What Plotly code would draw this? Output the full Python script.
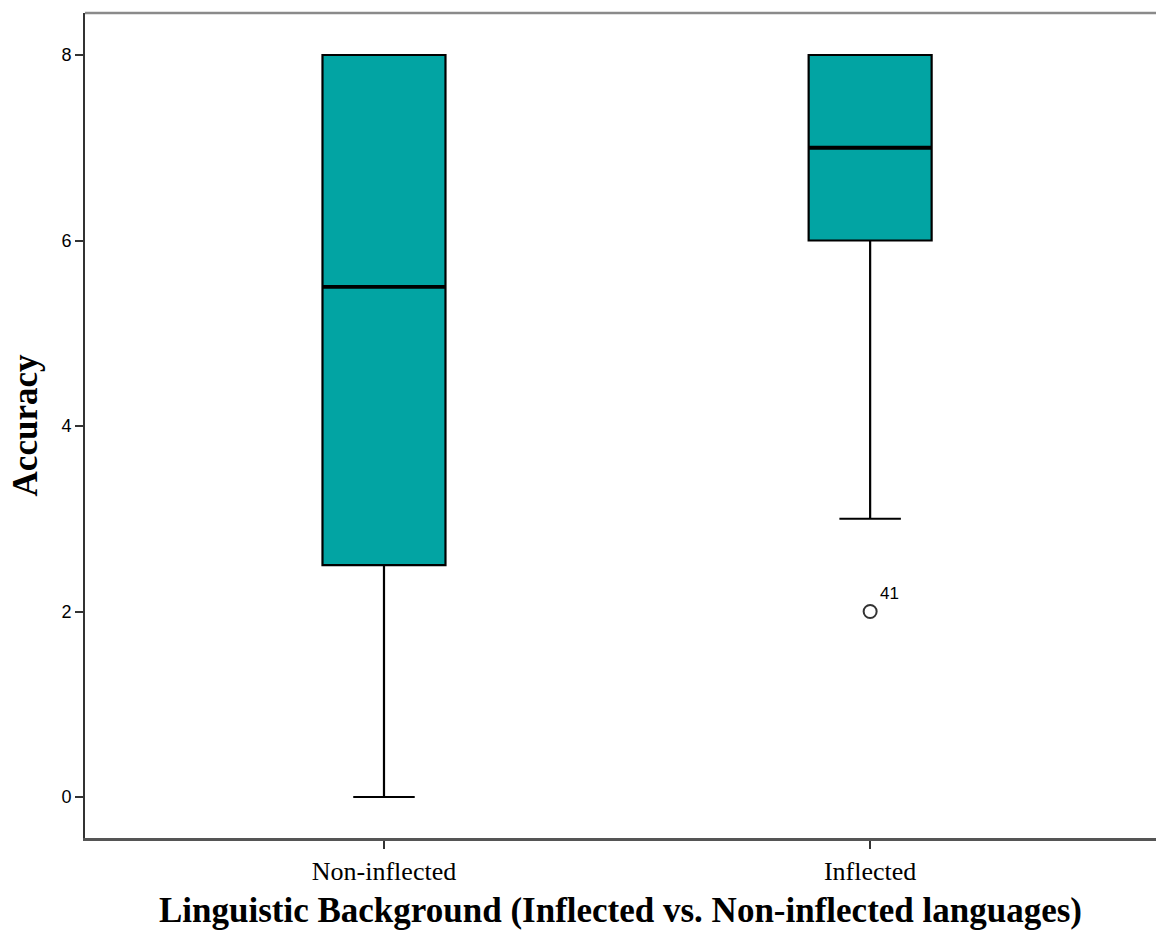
import plotly.graph_objects as go

# Summary statistics for Accuracy by linguistic background
groups = ["Non-inflected", "Inflected"]
positions = [0, 1]
q1 = [2.5, 6.0]
median = [5.5, 7.0]
q3 = [8.0, 8.0]
lower_whisker = [0.0, 3.0]
upper_whisker = [8.0, 8.0]

# Outliers (case id shown next to the point)
outlier_x = [1]
outlier_y = [2.0]
outlier_id = ["41"]

y_ticks = [0, 2, 4, 6, 8]

box_width = 0.253
fill = "#02A4A3"
serif = "Liberation Serif, Times New Roman, serif"
sans = "Liberation Sans, Arial, sans-serif"

fig = go.Figure()

fig.add_trace(go.Box(
    x=positions,
    q1=q1,
    median=median,
    q3=q3,
    lowerfence=lower_whisker,
    upperfence=upper_whisker,
    width=box_width,
    whiskerwidth=0.5,
    fillcolor=fill,
    line=dict(color="#000000", width=2.2),
    boxpoints=False,
    hoverinfo="skip",
    showlegend=False,
))

# Heavier median bars drawn on top of the boxes
for xp, m in zip(positions, median):
    fig.add_trace(go.Scatter(
        x=[xp - box_width / 2, xp + box_width / 2],
        y=[m, m],
        mode="lines",
        line=dict(color="#000000", width=3.8),
        hoverinfo="skip",
        showlegend=False,
    ))

fig.add_trace(go.Scatter(
    x=outlier_x,
    y=outlier_y,
    mode="markers",
    marker=dict(symbol="circle-open", size=13, color="#333333", line=dict(width=2)),
    hoverinfo="skip",
    showlegend=False,
))

for xo, yo, lab in zip(outlier_x, outlier_y, outlier_id):
    fig.add_annotation(
        x=xo, y=yo, text=lab, showarrow=False,
        xanchor="left", yanchor="bottom", xshift=8, yshift=7,
        font=dict(family=sans, size=17, color="#000000"),
    )

fig.update_layout(
    width=1156,
    height=938,
    margin=dict(l=85, r=0, t=13, b=100),
    paper_bgcolor="white",
    plot_bgcolor="white",
    xaxis=dict(
        range=[-0.615, 1.588],
        tickvals=positions,
        ticktext=groups,
        ticks="outside",
        ticklen=8,
        tickwidth=1.5,
        tickcolor="#333333",
        showline=True,
        linecolor="#555555",
        linewidth=2.5,
        showgrid=False,
        zeroline=False,
        tickfont=dict(family=serif, size=26, color="#000000"),
        title=dict(
            text="<b>Linguistic Background (Inflected vs. Non-inflected languages)</b>",
            font=dict(family=serif, size=35, color="#000000"),
            standoff=13,
        ),
    ),
    yaxis=dict(
        range=[-0.442, 8.453],
        tickvals=y_ticks,
        ticktext=[str(v) for v in y_ticks],
        ticks="outside",
        ticklen=8,
        tickwidth=1.5,
        tickcolor="#333333",
        showline=True,
        linecolor="#333333",
        linewidth=2,
        showgrid=False,
        zeroline=False,
        tickfont=dict(family=sans, size=18, color="#000000"),
        title=dict(
            text="<b>Accuracy</b>",
            font=dict(family=serif, size=35, color="#000000"),
            standoff=13,
        ),
    ),
)

# Lighter frame line along the top of the plotting area
fig.add_shape(
    type="line", xref="paper", yref="paper",
    x0=0, x1=1, y0=1, y1=1,
    line=dict(color="#8a8a8a", width=2.5),
)

fig.write_html("out.html")
